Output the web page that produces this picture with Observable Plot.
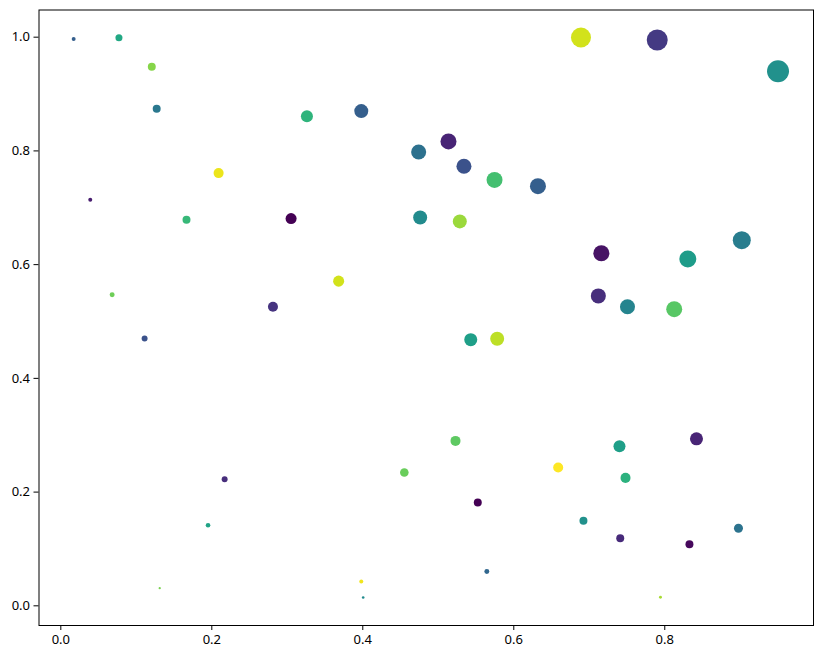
<!DOCTYPE html>
<html>
<head>
<meta charset="utf-8">
<script src="https://cdn.jsdelivr.net/npm/d3@7"></script>
<script src="https://cdn.jsdelivr.net/npm/@observablehq/plot@0.6"></script>
<style>
  body { margin: 0; background: #fff; }
</style>
</head>
<body>
<div id="chart"></div>
<script>
// values
const xs = [0.017, 0.077, 0.1205, 0.127, 0.326, 0.398, 0.209, 0.039, 0.1665, 0.305,
            0.368, 0.068, 0.281, 0.689, 0.790, 0.950, 0.5135, 0.474, 0.534, 0.5745,
            0.632, 0.476, 0.5285, 0.716, 0.902, 0.8305, 0.712, 0.7506, 0.8125, 0.111,
            0.217, 0.195, 0.131, 0.398, 0.4005, 0.455, 0.543, 0.578, 0.5228, 0.6588,
            0.740, 0.748, 0.842, 0.5523, 0.6923, 0.741, 0.8327, 0.8976, 0.5643, 0.7943]
const ys = [0.997, 0.999, 0.948, 0.874, 0.861, 0.870, 0.761, 0.714, 0.679, 0.681,
            0.571, 0.547, 0.526, 0.9995, 0.995, 0.940, 0.8166, 0.798, 0.773, 0.749,
            0.738, 0.683, 0.676, 0.620, 0.643, 0.610, 0.545, 0.526, 0.5216, 0.470,
            0.2227, 0.1418, 0.031, 0.0427, 0.0146, 0.2344, 0.468, 0.4696, 0.290, 0.2432,
            0.2807, 0.225, 0.2937, 0.1817, 0.1495, 0.1189, 0.1083, 0.1365, 0.0603, 0.0151]
const sizes = [9, 28, 36, 36, 82, 111, 57, 9, 36, 69,
               69, 14, 57, 227, 250, 274, 145, 128, 128, 145,
               145, 111, 111, 145, 184, 164, 128, 128, 145, 20,
               20, 12, 3, 9, 4, 42, 96, 111, 57, 57,
               82, 57, 96, 36, 36, 36, 36, 46, 14, 5]
const colors = [0.30, 0.60, 0.82, 0.40, 0.65, 0.30, 0.97, 0.08, 0.67, 0.00,
                0.93, 0.78, 0.15, 0.93, 0.17, 0.50, 0.10, 0.37, 0.25, 0.70,
                0.30, 0.48, 0.85, 0.05, 0.42, 0.55, 0.13, 0.45, 0.74, 0.25,
                0.13, 0.58, 0.80, 0.98, 0.48, 0.77, 0.56, 0.90, 0.75, 1.00,
                0.56, 0.64, 0.10, 0.00, 0.50, 0.12, 0.02, 0.38, 0.33, 0.87]
const xTicks = [0, 0.2, 0.4, 0.6, 0.8]
const yTicks = [0, 0.2, 0.4, 0.6, 0.8, 1.0]

const data = xs.map((x, i) => ({x, y: ys[i], s: sizes[i], c: colors[i]}))

let chart = Plot.plot({
  width: 823,
  height: 658,
  marginLeft: 38.5,
  marginTop: 9.5,
  marginRight: 10,
  marginBottom: 33,
  style: {fontFamily: 'Noto Sans, sans-serif', fontSize: '13px', color: '#000', background: '#fff'},
  x: {domain: [-0.0289, 0.997], label: null},
  y: {domain: [-0.0346, 1.0478], label: null},
  r: {type: 'sqrt', domain: [0, 300], range: [0, 11.5]},
  color: {type: 'linear', scheme: 'viridis', domain: [0, 1]},
  marks: [
    Plot.dot(data, {x: 'x', y: 'y', r: 's', fill: 'c', stroke: 'none'}),
    Plot.axisX({ticks: xTicks, tickFormat: d3.format('.1f'), tickSize: 5, tickPadding: 4, stroke: '#000'}),
    Plot.axisY({ticks: yTicks, tickFormat: d3.format('.1f'), tickSize: 5, tickPadding: 4, stroke: '#000'}),
    Plot.frame({stroke: '#000', strokeWidth: 1})
  ]
})
d3.select('#chart').append(() => chart)
</script>
</body>
</html>
